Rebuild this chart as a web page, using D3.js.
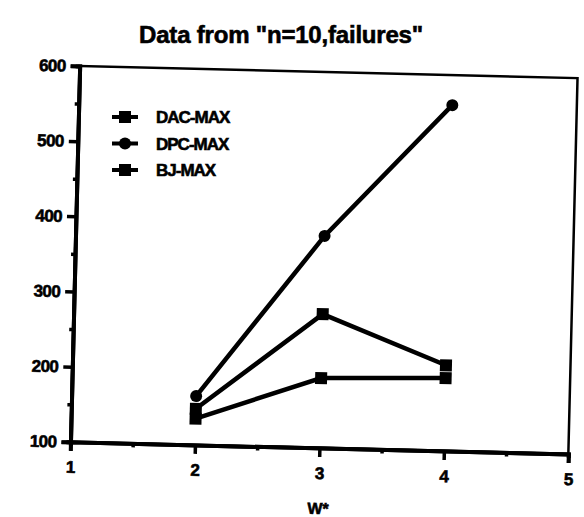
<!DOCTYPE html>
<html lang="en">
<head>
    <meta charset="UTF-8">
    <title>Data from "n=10,failures"</title>
    <script src="https://d3js.org/d3.v7.min.js"></script>
    <style>
        body { margin: 0; background: #fff; }
        text { font-family: "Liberation Sans", Arial, sans-serif; font-weight: bold; fill: #000; stroke: #000; stroke-width: 0.6px; }
    </style>
</head>
<body>
<div id="container"></div>
<script>
    // data
    const wValues = [2, 3, 4];
    const dacMax = [148, 278, 214];
    const dpcMax = [165, 382, 560];
    const bjMax = [135, 193, 197];
    const seriesNames = ['DAC-MAX', 'DPC-MAX', 'BJ-MAX'];
    const xTicks = [1, 2, 3, 4, 5];
    const yTicks = [100, 200, 300, 400, 500, 600];

    const series = [
        { name: seriesNames[0], values: dacMax, shape: 'square' },
        { name: seriesNames[1], values: dpcMax, shape: 'circle' },
        { name: seriesNames[2], values: bjMax, shape: 'square' }
    ];

    const W = 584, H = 517;
    const margin = { left: 75, top: 72, right: 11, bottom: 69 };
    const iw = W - margin.left - margin.right;
    const ih = H - margin.top - margin.bottom;

    const svg = d3.select('#container').append('svg')
        .attr('width', W).attr('height', H);

    // title
    svg.append('text')
        .attr('x', 281).attr('y', 43)
        .attr('text-anchor', 'middle')
        .style('font-size', '24px')
        .style('letter-spacing', '-0.2px')
        .text('Data from "n=10,failures"');

    // scanned page is a little tilted
    const cx = margin.left + iw / 2, cy = margin.top + ih / 2;
    const g = svg.append('g')
        .attr('transform', `rotate(1.4 ${cx} ${cy}) translate(${margin.left},${margin.top})`);

    const x = d3.scaleLinear().domain([1, 5]).range([0, iw]);
    const y = d3.scaleLinear().domain([100, 600]).range([ih, 0]);

    // frame
    g.append('rect')
        .attr('width', iw).attr('height', ih)
        .attr('fill', 'none').attr('stroke', '#000').attr('stroke-width', 2.5);

    // axes
    const yAxis = g.append('g').call(d3.axisLeft(y).tickValues(yTicks).tickSize(9).tickPadding(5));
    const yMinor = g.append('g').call(d3.axisLeft(y).tickValues(d3.range(150, 600, 100)).tickSize(4).tickFormat(''));
    const xAxis = g.append('g').attr('transform', `translate(0,${ih})`)
        .call(d3.axisBottom(x).tickValues(xTicks).tickSize(9).tickPadding(10).tickFormat(d3.format('d')));
    const xMinor = g.append('g').attr('transform', `translate(0,${ih})`)
        .call(d3.axisBottom(x).tickValues([1.5, 2.5, 3.5, 4.5]).tickSize(4).tickFormat(''));

    [yAxis, yMinor, xAxis, xMinor].forEach(a => {
        a.select('.domain').attr('stroke', '#000').attr('stroke-width', 4);
        a.selectAll('.tick line').attr('stroke', '#000').style('stroke-width', '3.5px');
        a.selectAll('text').style('font-size', '17px').style('letter-spacing', '-0.6px').attr('font-family', null);
    });

    // x axis title
    g.append('text')
        .attr('x', x(3)).attr('y', ih + 66)
        .attr('text-anchor', 'middle')
        .style('font-size', '16px')
        .text('W*');

    const line = d3.line()
        .x((d, i) => x(wValues[i]))
        .y(d => y(d));

    function marker(sel, shape) {
        if (shape === 'square') {
            sel.append('rect')
                .attr('x', -6).attr('y', -6).attr('width', 12).attr('height', 12)
                .attr('fill', '#000');
        } else {
            sel.append('circle').attr('r', 6).attr('fill', '#000');
        }
    }

    series.forEach(s => {
        g.append('path')
            .datum(s.values)
            .attr('d', line)
            .attr('fill', 'none')
            .attr('stroke', '#000')
            .attr('stroke-width', 4.5);
        s.values.forEach((v, i) => {
            const m = g.append('g').attr('transform', `translate(${x(wValues[i])},${y(v)})`);
            marker(m, s.shape);
        });
    });

    // legend
    const legend = svg.append('g').attr('transform', 'translate(112,117)');
    series.forEach((s, i) => {
        const row = legend.append('g').attr('transform', `translate(0,${i * 26.5})`);
        row.append('line')
            .attr('x1', 0).attr('x2', 26)
            .attr('stroke', '#000').attr('stroke-width', 4);
        const m = row.append('g').attr('transform', 'translate(13,0)');
        marker(m, s.shape);
        row.append('text')
            .attr('x', 44).attr('y', 6)
            .style('font-size', '17px')
            .style('letter-spacing', '-1px')
            .text(s.name);
    });
</script>
</body>
</html>
